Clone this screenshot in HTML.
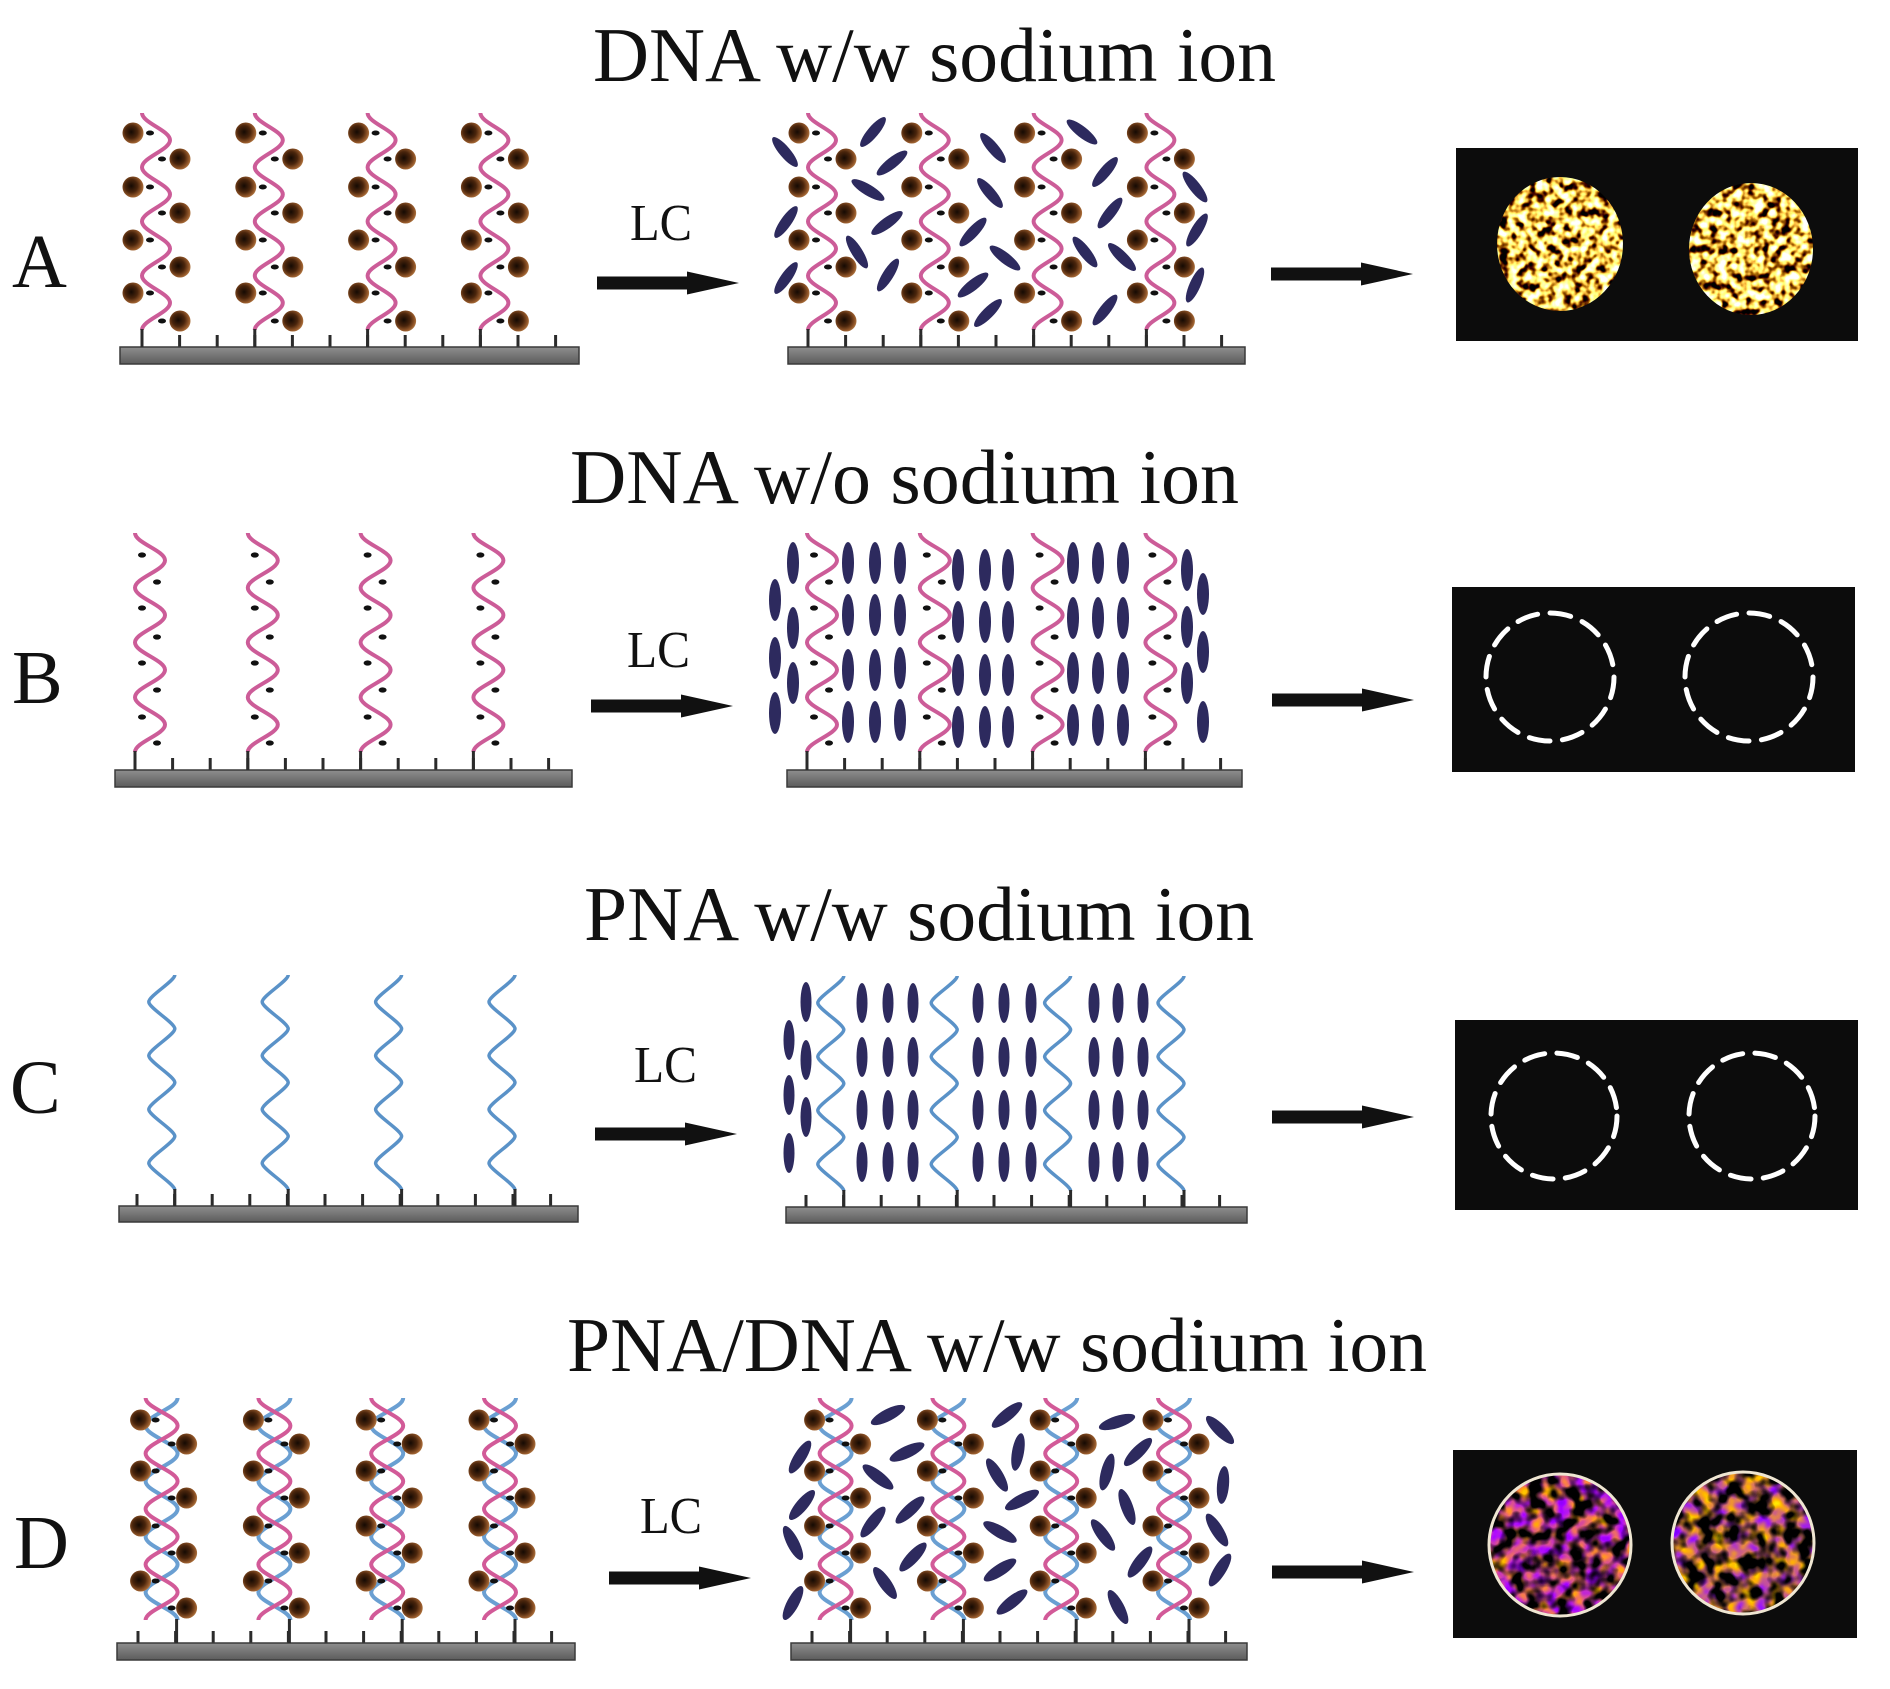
<!DOCTYPE html>
<html>
<head>
<meta charset="utf-8">
<style>
html,body{margin:0;padding:0;background:#fff;}
svg{display:block;}
.t{font-family:"Liberation Serif","Times New Roman",serif;fill:#111;}
</style>
</head>
<body>
<svg xmlns="http://www.w3.org/2000/svg" width="1890" height="1689" viewBox="0 0 1890 1689">
<defs>
 <radialGradient id="ball" cx="0.42" cy="0.45" r="0.6">
  <stop offset="0" stop-color="#150a03"/>
  <stop offset="0.5" stop-color="#4a250c"/>
  <stop offset="0.85" stop-color="#94582a"/>
  <stop offset="1" stop-color="#b27a45"/>
 </radialGradient>
 <linearGradient id="bar" x1="0" y1="0" x2="0" y2="1">
  <stop offset="0" stop-color="#8e8e8e"/>
  <stop offset="1" stop-color="#5c5c5c"/>
 </linearGradient>
 <filter id="fA" x="0" y="0" width="1" height="1" color-interpolation-filters="sRGB">
  <feTurbulence type="fractalNoise" baseFrequency="0.11" numOctaves="2" seed="4" result="n"/>
  <feColorMatrix in="n" type="matrix" values="5 0 0 0 -1.45  5 0 0 0 -1.7  3.5 0 0 0 -1.45  0 0 0 0 1" result="c"/>
  <feComposite in="c" in2="SourceGraphic" operator="in"/>
 </filter>
 <filter id="fA2" x="0" y="0" width="1" height="1" color-interpolation-filters="sRGB">
  <feTurbulence type="fractalNoise" baseFrequency="0.11" numOctaves="2" seed="11" result="n"/>
  <feColorMatrix in="n" type="matrix" values="5 0 0 0 -1.45  5 0 0 0 -1.7  3.5 0 0 0 -1.45  0 0 0 0 1" result="c"/>
  <feComposite in="c" in2="SourceGraphic" operator="in"/>
 </filter>
 <filter id="fD" x="0" y="0" width="1" height="1" color-interpolation-filters="sRGB">
  <feTurbulence type="fractalNoise" baseFrequency="0.07" numOctaves="2" seed="2" result="n"/>
  <feColorMatrix in="n" type="matrix" values="0 0.9 0 0 0.4  0 1.4 0 0 -0.4  0 -2.2 0 0 1.7  0 0 0 0 1" result="hue"/>
  <feColorMatrix in="n" type="matrix" values="4 0 0 0 -1.45  4 0 0 0 -1.45  4 0 0 0 -1.45  0 0 0 0 1" result="lum"/>
  <feComposite in="hue" in2="lum" operator="arithmetic" k1="1" k2="0" k3="0" k4="0" result="c"/>
  <feComposite in="c" in2="SourceGraphic" operator="in"/>
 </filter>
 <filter id="fD2" x="0" y="0" width="1" height="1" color-interpolation-filters="sRGB">
  <feTurbulence type="fractalNoise" baseFrequency="0.07" numOctaves="2" seed="9" result="n"/>
  <feColorMatrix in="n" type="matrix" values="0 0.9 0 0 0.4  0 1.4 0 0 -0.25  0 -2.2 0 0 1.5  0 0 0 0 1" result="hue"/>
  <feColorMatrix in="n" type="matrix" values="4 0 0 0 -1.45  4 0 0 0 -1.45  4 0 0 0 -1.45  0 0 0 0 1" result="lum"/>
  <feComposite in="hue" in2="lum" operator="arithmetic" k1="1" k2="0" k3="0" k4="0" result="c"/>
  <feComposite in="c" in2="SourceGraphic" operator="in"/>
 </filter>

 <path id="ticks" d="M0,-12V0M37.6,-12V0M75.2,-12V0M112.8,-12V0M150.4,-12V0M188,-12V0M225.6,-12V0M263.2,-12V0M300.8,-12V0M338.4,-12V0M376,-12V0M413.6,-12V0" stroke="#2b2b2b" stroke-width="3" fill="none"/>
 <path id="arrow" d="M0,-6.5H90V-11.5L142,0L90,11.5V6.5H0Z" fill="#111"/>

 <g id="dnaNa">
  <path d="M0,-234 C0,-224.23 28,-216.64 28,-206.88 S0,-189.52 0,-179.75 S28,-162.39 28,-152.63 S0,-135.27 0,-125.5 S28,-108.14 28,-98.38 S0,-81.02 0,-71.25 S28,-53.89 28,-44.13 S0,-26.77 0,-17" fill="none" stroke="#cc5c98" stroke-width="4"/>
  <path d="M0,-18V0" stroke="#2b2b2b" stroke-width="3"/>
  <g fill="#111">
   <ellipse cx="8" cy="-214" rx="4" ry="2.5"/><ellipse cx="8" cy="-160" rx="4" ry="2.5"/><ellipse cx="8" cy="-107" rx="4" ry="2.5"/><ellipse cx="8" cy="-54" rx="4" ry="2.5"/>
   <ellipse cx="20" cy="-188" rx="4" ry="2.5"/><ellipse cx="20" cy="-134" rx="4" ry="2.5"/><ellipse cx="20" cy="-80" rx="4" ry="2.5"/><ellipse cx="20" cy="-26" rx="4" ry="2.5"/>
  </g>
  <g fill="url(#ball)">
   <circle cx="-9" cy="-214" r="10.5"/><circle cx="-9" cy="-160" r="10.5"/><circle cx="-9" cy="-107" r="10.5"/><circle cx="-9" cy="-54" r="10.5"/>
   <circle cx="38" cy="-188" r="10.5"/><circle cx="38" cy="-134" r="10.5"/><circle cx="38" cy="-80" r="10.5"/><circle cx="38" cy="-26" r="10.5"/>
  </g>
 </g>

 <g id="dnaBare">
  <path d="M0,-237 C0,-227.15 30,-219.48 30,-209.63 S0,-192.1 0,-182.25 S30,-164.73 30,-154.88 S0,-137.35 0,-127.5 S30,-109.98 30,-100.13 S0,-82.6 0,-72.75 S30,-55.23 30,-45.38 S0,-27.85 0,-18" fill="none" stroke="#cc5c98" stroke-width="4"/>
  <path d="M0,-19V0" stroke="#2b2b2b" stroke-width="3"/>
  <g fill="#111">
   <ellipse cx="7" cy="-215" rx="4" ry="2.6"/><ellipse cx="7" cy="-162" rx="4" ry="2.6"/><ellipse cx="7" cy="-107" rx="4" ry="2.6"/><ellipse cx="7" cy="-53" rx="4" ry="2.6"/>
   <ellipse cx="22" cy="-188" rx="4" ry="2.6"/><ellipse cx="22" cy="-133" rx="4" ry="2.6"/><ellipse cx="22" cy="-80" rx="4" ry="2.6"/><ellipse cx="22" cy="-27" rx="4" ry="2.6"/>
  </g>
 </g>

 <g id="pna">
  <path d="M0,-231 C0,-225 -26,-210.13 -26,-204.13 S0,-183.25 0,-177.25 S-26,-156.38 -26,-150.38 S0,-129.5 0,-123.5 S-26,-102.63 -26,-96.63 S0,-75.75 0,-69.75 S-26,-48.88 -26,-42.88 S0,-22 0,-16" fill="none" stroke="#5a92c8" stroke-width="3.5"/>
  <path d="M0,-17V0" stroke="#2b2b2b" stroke-width="3"/>
 </g>

 <g id="duplex">
  <path d="M2,-245 C2,-235 -30,-227.25 -30,-217.25 S2,-199.5 2,-189.5 S-30,-171.75 -30,-161.75 S2,-144 2,-134 S-30,-116.25 -30,-106.25 S2,-88.5 2,-78.5 S-30,-60.75 -30,-50.75 S2,-33 2,-23" fill="none" stroke="#6a9fd2" stroke-width="4"/>
  <path d="M-30,-245 C-30,-235 2,-227.25 2,-217.25 S-30,-199.5 -30,-189.5 S2,-171.75 2,-161.75 S-30,-144 -30,-134 S2,-116.25 2,-106.25 S-30,-88.5 -30,-78.5 S2,-60.75 2,-50.75 S-30,-33 -30,-23" fill="none" stroke="#d25a98" stroke-width="4"/>
  <path d="M1,-24V0" stroke="#2b2b2b" stroke-width="3"/>
  <g fill="#111">
   <ellipse cx="-20" cy="-223" rx="4" ry="2.5"/><ellipse cx="-20" cy="-172" rx="4" ry="2.5"/><ellipse cx="-20" cy="-117" rx="4" ry="2.5"/><ellipse cx="-20" cy="-62" rx="4" ry="2.5"/>
   <ellipse cx="-4" cy="-199" rx="4" ry="2.5"/><ellipse cx="-4" cy="-145" rx="4" ry="2.5"/><ellipse cx="-4" cy="-90" rx="4" ry="2.5"/><ellipse cx="-4" cy="-35" rx="4" ry="2.5"/>
  </g>
  <g fill="url(#ball)">
   <circle cx="-35" cy="-223" r="10.5"/><circle cx="-35" cy="-172" r="10.5"/><circle cx="-35" cy="-117" r="10.5"/><circle cx="-35" cy="-62" r="10.5"/>
   <circle cx="11" cy="-199" r="10.5"/><circle cx="11" cy="-145" r="10.5"/><circle cx="11" cy="-90" r="10.5"/><circle cx="11" cy="-35" r="10.5"/>
  </g>
 </g>
</defs>

<rect width="1890" height="1689" fill="#fff"/>

<!-- Titles -->
<text class="t" x="593" y="81" font-size="77" textLength="683" lengthAdjust="spacingAndGlyphs">DNA w/w sodium ion</text>
<text class="t" x="570" y="503" font-size="77" textLength="669" lengthAdjust="spacingAndGlyphs">DNA w/o sodium ion</text>
<text class="t" x="584" y="940" font-size="77" textLength="670" lengthAdjust="spacingAndGlyphs">PNA w/w sodium ion</text>
<text class="t" x="567" y="1371" font-size="77" textLength="860" lengthAdjust="spacingAndGlyphs">PNA/DNA w/w sodium ion</text>

<!-- Row letters -->
<text class="t" x="12" y="287" font-size="76">A</text>
<text class="t" x="12" y="703" font-size="76">B</text>
<text class="t" x="10" y="1113" font-size="76">C</text>
<text class="t" x="14" y="1568" font-size="76">D</text>

<!-- LC labels -->
<text class="t" x="630" y="240" font-size="52" textLength="62" lengthAdjust="spacingAndGlyphs">LC</text>
<text class="t" x="627" y="667" font-size="52" textLength="63" lengthAdjust="spacingAndGlyphs">LC</text>
<text class="t" x="634" y="1082" font-size="52" textLength="63" lengthAdjust="spacingAndGlyphs">LC</text>
<text class="t" x="640" y="1533" font-size="52" textLength="62" lengthAdjust="spacingAndGlyphs">LC</text>

<!-- Arrows -->
<use href="#arrow" transform="translate(597,283)"/>
<use href="#arrow" transform="translate(1271,274)"/>
<use href="#arrow" transform="translate(591,706)"/>
<use href="#arrow" transform="translate(1272,700)"/>
<use href="#arrow" transform="translate(595,1134)"/>
<use href="#arrow" transform="translate(1272,1117)"/>
<use href="#arrow" transform="translate(609,1578)"/>
<use href="#arrow" transform="translate(1272,1572)"/>

<!-- ===== Row A ===== -->
<use href="#ticks" transform="translate(142,347)"/>
<rect x="120" y="347" width="459" height="17" fill="url(#bar)" stroke="#3a3a3a" stroke-width="1.5"/>
<use href="#dnaNa" transform="translate(142,347)"/>
<use href="#dnaNa" transform="translate(254.8,347)"/>
<use href="#dnaNa" transform="translate(367.6,347)"/>
<use href="#dnaNa" transform="translate(480.4,347)"/>

<use href="#ticks" transform="translate(808,347)"/>
<rect x="788" y="347" width="457" height="17" fill="url(#bar)" stroke="#3a3a3a" stroke-width="1.5"/>
<use href="#dnaNa" transform="translate(808,347)"/>
<use href="#dnaNa" transform="translate(920.8,347)"/>
<use href="#dnaNa" transform="translate(1033.6,347)"/>
<use href="#dnaNa" transform="translate(1146.4,347)"/>
<g fill="#2d2a5e">
 <ellipse cx="785" cy="152" rx="19" ry="5.5" transform="rotate(50 785 152)"/>
 <ellipse cx="786" cy="222" rx="19" ry="5.5" transform="rotate(-55 786 222)"/>
 <ellipse cx="786" cy="278" rx="19" ry="5.5" transform="rotate(-55 786 278)"/>
 <ellipse cx="873" cy="132" rx="19" ry="5.5" transform="rotate(-50 873 132)"/>
 <ellipse cx="892" cy="163" rx="19" ry="5.5" transform="rotate(-38 892 163)"/>
 <ellipse cx="868" cy="190" rx="19" ry="5.5" transform="rotate(31 868 190)"/>
 <ellipse cx="887" cy="223" rx="19" ry="5.5" transform="rotate(-36 887 223)"/>
 <ellipse cx="857" cy="252" rx="19" ry="5.5" transform="rotate(58 857 252)"/>
 <ellipse cx="888" cy="275" rx="19" ry="5.5" transform="rotate(-58 888 275)"/>
 <ellipse cx="993" cy="148" rx="19" ry="5.5" transform="rotate(50 993 148)"/>
 <ellipse cx="990" cy="193" rx="19" ry="5.5" transform="rotate(50 990 193)"/>
 <ellipse cx="973" cy="232" rx="19" ry="5.5" transform="rotate(-47 973 232)"/>
 <ellipse cx="1005" cy="258" rx="19" ry="5.5" transform="rotate(38 1005 258)"/>
 <ellipse cx="973" cy="285" rx="19" ry="5.5" transform="rotate(-38 973 285)"/>
 <ellipse cx="988" cy="313" rx="19" ry="5.5" transform="rotate(-45 988 313)"/>
 <ellipse cx="1082" cy="132" rx="19" ry="5.5" transform="rotate(38 1082 132)"/>
 <ellipse cx="1105" cy="172" rx="19" ry="5.5" transform="rotate(-50 1105 172)"/>
 <ellipse cx="1110" cy="213" rx="19" ry="5.5" transform="rotate(-52 1110 213)"/>
 <ellipse cx="1085" cy="252" rx="19" ry="5.5" transform="rotate(52 1085 252)"/>
 <ellipse cx="1122" cy="257" rx="19" ry="5.5" transform="rotate(45 1122 257)"/>
 <ellipse cx="1105" cy="310" rx="19" ry="5.5" transform="rotate(-52 1105 310)"/>
 <ellipse cx="1195" cy="187" rx="19" ry="5.5" transform="rotate(52 1195 187)"/>
 <ellipse cx="1197" cy="230" rx="19" ry="5.5" transform="rotate(-59 1197 230)"/>
 <ellipse cx="1195" cy="285" rx="19" ry="5.5" transform="rotate(-66 1195 285)"/>
</g>

<rect x="1456" y="148" width="402" height="193" fill="#0c0c0c"/>
<ellipse cx="1560" cy="244" rx="63" ry="67" fill="#000" filter="url(#fA)"/>
<ellipse cx="1751" cy="249" rx="62" ry="66" fill="#000" filter="url(#fA2)"/>

<!-- ===== Row B ===== -->
<use href="#ticks" transform="translate(135,770)"/>
<rect x="115" y="770" width="457" height="17" fill="url(#bar)" stroke="#3a3a3a" stroke-width="1.5"/>
<use href="#dnaBare" transform="translate(135,770)"/>
<use href="#dnaBare" transform="translate(247.8,770)"/>
<use href="#dnaBare" transform="translate(360.6,770)"/>
<use href="#dnaBare" transform="translate(473.4,770)"/>

<use href="#ticks" transform="translate(807,770)"/>
<rect x="787" y="770" width="455" height="17" fill="url(#bar)" stroke="#3a3a3a" stroke-width="1.5"/>
<use href="#dnaBare" transform="translate(807,770)"/>
<use href="#dnaBare" transform="translate(919.8,770)"/>
<use href="#dnaBare" transform="translate(1032.6,770)"/>
<use href="#dnaBare" transform="translate(1145.4,770)"/>
<g fill="#2d2a5e">
 <ellipse cx="775" cy="600" rx="6" ry="21"/><ellipse cx="775" cy="658" rx="6" ry="21"/><ellipse cx="775" cy="713" rx="6" ry="21"/>
 <ellipse cx="793" cy="563" rx="6" ry="21"/><ellipse cx="793" cy="628" rx="6" ry="21"/><ellipse cx="793" cy="683" rx="6" ry="21"/>
 <ellipse cx="848" cy="563" rx="6" ry="21"/><ellipse cx="848" cy="615" rx="6" ry="21"/><ellipse cx="848" cy="670" rx="6" ry="21"/><ellipse cx="848" cy="722" rx="6" ry="21"/>
 <ellipse cx="875" cy="563" rx="6" ry="21"/><ellipse cx="875" cy="615" rx="6" ry="21"/><ellipse cx="875" cy="670" rx="6" ry="21"/><ellipse cx="875" cy="722" rx="6" ry="21"/>
 <ellipse cx="900" cy="563" rx="6" ry="21"/><ellipse cx="900" cy="615" rx="6" ry="21"/><ellipse cx="900" cy="668" rx="6" ry="21"/><ellipse cx="900" cy="720" rx="6" ry="21"/>
 <ellipse cx="958" cy="570" rx="6" ry="21"/><ellipse cx="958" cy="622" rx="6" ry="21"/><ellipse cx="958" cy="675" rx="6" ry="21"/><ellipse cx="958" cy="727" rx="6" ry="21"/>
 <ellipse cx="985" cy="570" rx="6" ry="21"/><ellipse cx="985" cy="622" rx="6" ry="21"/><ellipse cx="985" cy="675" rx="6" ry="21"/><ellipse cx="985" cy="727" rx="6" ry="21"/>
 <ellipse cx="1008" cy="570" rx="6" ry="21"/><ellipse cx="1008" cy="622" rx="6" ry="21"/><ellipse cx="1008" cy="675" rx="6" ry="21"/><ellipse cx="1008" cy="727" rx="6" ry="21"/>
 <ellipse cx="1073" cy="563" rx="6" ry="21"/><ellipse cx="1073" cy="618" rx="6" ry="21"/><ellipse cx="1073" cy="673" rx="6" ry="21"/><ellipse cx="1073" cy="725" rx="6" ry="21"/>
 <ellipse cx="1098" cy="563" rx="6" ry="21"/><ellipse cx="1098" cy="618" rx="6" ry="21"/><ellipse cx="1098" cy="673" rx="6" ry="21"/><ellipse cx="1098" cy="725" rx="6" ry="21"/>
 <ellipse cx="1123" cy="563" rx="6" ry="21"/><ellipse cx="1123" cy="618" rx="6" ry="21"/><ellipse cx="1123" cy="673" rx="6" ry="21"/><ellipse cx="1123" cy="725" rx="6" ry="21"/>
 <ellipse cx="1187" cy="570" rx="6" ry="21"/><ellipse cx="1187" cy="627" rx="6" ry="21"/><ellipse cx="1187" cy="683" rx="6" ry="21"/>
 <ellipse cx="1203" cy="594" rx="6" ry="21"/><ellipse cx="1203" cy="652" rx="6" ry="21"/><ellipse cx="1203" cy="722" rx="6" ry="21"/>
</g>

<rect x="1452" y="587" width="403" height="185" fill="#0c0c0c"/>
<g fill="none" stroke="#fff" stroke-width="5" stroke-dasharray="21 12.5" stroke-linecap="round">
 <circle cx="1550" cy="677" r="64"/>
 <circle cx="1749" cy="677" r="64"/>
</g>

<!-- ===== Row C ===== -->
<use href="#ticks" transform="translate(137,1206)"/>
<rect x="119" y="1206" width="459" height="16" fill="url(#bar)" stroke="#3a3a3a" stroke-width="1.5"/>
<use href="#pna" transform="translate(174.8,1206)"/>
<use href="#pna" transform="translate(288.2,1206)"/>
<use href="#pna" transform="translate(401.6,1206)"/>
<use href="#pna" transform="translate(515,1206)"/>

<use href="#ticks" transform="translate(806,1207)"/>
<rect x="786" y="1207" width="461" height="16" fill="url(#bar)" stroke="#3a3a3a" stroke-width="1.5"/>
<use href="#pna" transform="translate(843.8,1207)"/>
<use href="#pna" transform="translate(957.2,1207)"/>
<use href="#pna" transform="translate(1070.6,1207)"/>
<use href="#pna" transform="translate(1184,1207)"/>
<g fill="#2d2a5e">
 <ellipse cx="806" cy="1002" rx="5.5" ry="20"/><ellipse cx="789" cy="1040" rx="5.5" ry="20"/><ellipse cx="806" cy="1060" rx="5.5" ry="20"/>
 <ellipse cx="789" cy="1095" rx="5.5" ry="20"/><ellipse cx="806" cy="1117" rx="5.5" ry="20"/><ellipse cx="789" cy="1153" rx="5.5" ry="20"/>
 <ellipse cx="862" cy="1003" rx="5.5" ry="20"/><ellipse cx="862" cy="1057" rx="5.5" ry="20"/><ellipse cx="862" cy="1110" rx="5.5" ry="20"/><ellipse cx="862" cy="1162" rx="5.5" ry="20"/>
 <ellipse cx="888" cy="1003" rx="5.5" ry="20"/><ellipse cx="888" cy="1057" rx="5.5" ry="20"/><ellipse cx="888" cy="1110" rx="5.5" ry="20"/><ellipse cx="888" cy="1162" rx="5.5" ry="20"/>
 <ellipse cx="913" cy="1003" rx="5.5" ry="20"/><ellipse cx="913" cy="1057" rx="5.5" ry="20"/><ellipse cx="913" cy="1110" rx="5.5" ry="20"/><ellipse cx="913" cy="1162" rx="5.5" ry="20"/>
 <ellipse cx="978" cy="1003" rx="5.5" ry="20"/><ellipse cx="978" cy="1057" rx="5.5" ry="20"/><ellipse cx="978" cy="1110" rx="5.5" ry="20"/><ellipse cx="978" cy="1162" rx="5.5" ry="20"/>
 <ellipse cx="1004" cy="1003" rx="5.5" ry="20"/><ellipse cx="1004" cy="1057" rx="5.5" ry="20"/><ellipse cx="1004" cy="1110" rx="5.5" ry="20"/><ellipse cx="1004" cy="1162" rx="5.5" ry="20"/>
 <ellipse cx="1031" cy="1003" rx="5.5" ry="20"/><ellipse cx="1031" cy="1057" rx="5.5" ry="20"/><ellipse cx="1031" cy="1110" rx="5.5" ry="20"/><ellipse cx="1031" cy="1162" rx="5.5" ry="20"/>
 <ellipse cx="1094" cy="1003" rx="5.5" ry="20"/><ellipse cx="1094" cy="1057" rx="5.5" ry="20"/><ellipse cx="1094" cy="1110" rx="5.5" ry="20"/><ellipse cx="1094" cy="1162" rx="5.5" ry="20"/>
 <ellipse cx="1118" cy="1003" rx="5.5" ry="20"/><ellipse cx="1118" cy="1057" rx="5.5" ry="20"/><ellipse cx="1118" cy="1110" rx="5.5" ry="20"/><ellipse cx="1118" cy="1162" rx="5.5" ry="20"/>
 <ellipse cx="1143" cy="1003" rx="5.5" ry="20"/><ellipse cx="1143" cy="1057" rx="5.5" ry="20"/><ellipse cx="1143" cy="1110" rx="5.5" ry="20"/><ellipse cx="1143" cy="1162" rx="5.5" ry="20"/>
</g>

<rect x="1455" y="1020" width="403" height="190" fill="#0c0c0c"/>
<g fill="none" stroke="#fff" stroke-width="5" stroke-dasharray="21 12.3" stroke-linecap="round">
 <circle cx="1554" cy="1116" r="63"/>
 <circle cx="1752" cy="1116" r="63"/>
</g>

<!-- ===== Row D ===== -->
<use href="#ticks" transform="translate(138,1643)"/>
<rect x="117" y="1643" width="458" height="17" fill="url(#bar)" stroke="#3a3a3a" stroke-width="1.5"/>
<use href="#duplex" transform="translate(175.6,1643)"/>
<use href="#duplex" transform="translate(288.4,1643)"/>
<use href="#duplex" transform="translate(401.2,1643)"/>
<use href="#duplex" transform="translate(514,1643)"/>

<use href="#ticks" transform="translate(812,1643)"/>
<rect x="791" y="1643" width="456" height="17" fill="url(#bar)" stroke="#3a3a3a" stroke-width="1.5"/>
<use href="#duplex" transform="translate(849.6,1643)"/>
<use href="#duplex" transform="translate(962.4,1643)"/>
<use href="#duplex" transform="translate(1075.2,1643)"/>
<use href="#duplex" transform="translate(1188,1643)"/>
<g fill="#2d2a5e">
 <ellipse cx="888" cy="1415" rx="19" ry="6" transform="rotate(-27 888 1415)"/>
 <ellipse cx="800" cy="1457" rx="19" ry="6" transform="rotate(-58 800 1457)"/>
 <ellipse cx="907" cy="1452" rx="19" ry="6" transform="rotate(-25 907 1452)"/>
 <ellipse cx="878" cy="1477" rx="19" ry="6" transform="rotate(38 878 1477)"/>
 <ellipse cx="802" cy="1505" rx="19" ry="6" transform="rotate(-50 802 1505)"/>
 <ellipse cx="910" cy="1510" rx="19" ry="6" transform="rotate(-43 910 1510)"/>
 <ellipse cx="873" cy="1522" rx="19" ry="6" transform="rotate(-52 873 1522)"/>
 <ellipse cx="793" cy="1543" rx="19" ry="6" transform="rotate(63 793 1543)"/>
 <ellipse cx="913" cy="1557" rx="19" ry="6" transform="rotate(-47 913 1557)"/>
 <ellipse cx="885" cy="1583" rx="19" ry="6" transform="rotate(55 885 1583)"/>
 <ellipse cx="793" cy="1603" rx="19" ry="6" transform="rotate(-62 793 1603)"/>
 <ellipse cx="1007" cy="1415" rx="19" ry="6" transform="rotate(-39 1007 1415)"/>
 <ellipse cx="1018" cy="1452" rx="19" ry="6" transform="rotate(-80 1018 1452)"/>
 <ellipse cx="997" cy="1475" rx="19" ry="6" transform="rotate(59 997 1475)"/>
 <ellipse cx="1022" cy="1500" rx="19" ry="6" transform="rotate(-28 1022 1500)"/>
 <ellipse cx="1000" cy="1532" rx="19" ry="6" transform="rotate(30 1000 1532)"/>
 <ellipse cx="1000" cy="1570" rx="19" ry="6" transform="rotate(-33 1000 1570)"/>
 <ellipse cx="1012" cy="1602" rx="19" ry="6" transform="rotate(-38 1012 1602)"/>
 <ellipse cx="1117" cy="1422" rx="19" ry="6" transform="rotate(-18 1117 1422)"/>
 <ellipse cx="1138" cy="1452" rx="19" ry="6" transform="rotate(-45 1138 1452)"/>
 <ellipse cx="1107" cy="1472" rx="19" ry="6" transform="rotate(-75 1107 1472)"/>
 <ellipse cx="1127" cy="1507" rx="19" ry="6" transform="rotate(70 1127 1507)"/>
 <ellipse cx="1103" cy="1535" rx="19" ry="6" transform="rotate(54 1103 1535)"/>
 <ellipse cx="1140" cy="1562" rx="19" ry="6" transform="rotate(-53 1140 1562)"/>
 <ellipse cx="1118" cy="1607" rx="19" ry="6" transform="rotate(62 1118 1607)"/>
 <ellipse cx="1220" cy="1430" rx="19" ry="6" transform="rotate(45 1220 1430)"/>
 <ellipse cx="1223" cy="1485" rx="19" ry="6" transform="rotate(-85 1223 1485)"/>
 <ellipse cx="1217" cy="1530" rx="19" ry="6" transform="rotate(58 1217 1530)"/>
 <ellipse cx="1220" cy="1570" rx="19" ry="6" transform="rotate(-58 1220 1570)"/>
</g>

<rect x="1453" y="1450" width="404" height="188" fill="#0c0c0c"/>
<circle cx="1560" cy="1545" r="71" fill="#000" filter="url(#fD)"/>
<circle cx="1743" cy="1543" r="71" fill="#000" filter="url(#fD2)"/>
<g fill="none" stroke="#efe6d2" stroke-width="3">
 <circle cx="1560" cy="1545" r="71"/>
 <circle cx="1743" cy="1543" r="71"/>
</g>
</svg>
</body>
</html>
